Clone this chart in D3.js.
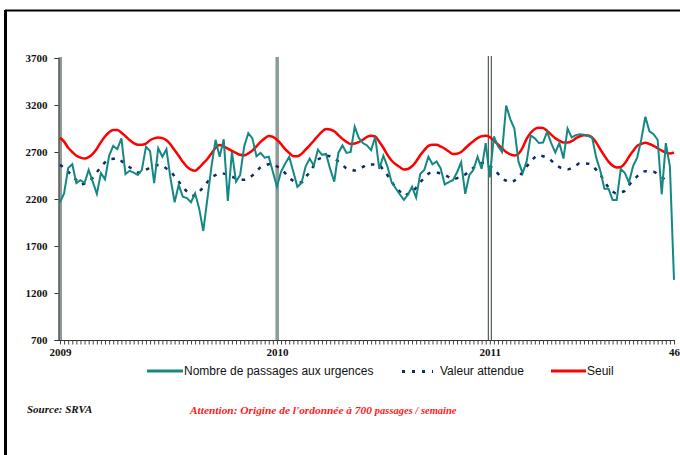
<!DOCTYPE html>
<html>
<head>
<meta charset="utf-8">
<script src="https://cdn.jsdelivr.net/npm/d3@7"></script>
<style>
  html, body { margin: 0; padding: 0; background: #fff; }
  svg { display: block; }
</style>
</head>
<body>
<svg id="chart" width="680" height="455"></svg>
<script>
// Weekly emergency-room visits, 2009 week 1 to 2011 week 46 (151 weeks)
const passages = [
  2165,2260,2530,2570,2370,2400,2370,2510,2385,2255,2475,2410,2660,2765,2730,2845,2465,2500,2480,2455,
  2510,2755,2710,2370,2740,2650,2730,2420,2165,2350,2225,2210,2165,2260,2100,1860,2200,2545,2830,2650,
  2835,2180,2700,2385,2455,2760,2900,2845,2655,2690,2640,2650,2490,2330,2490,2575,2650,2490,2330,2370,
  2545,2630,2555,2725,2670,2680,2520,2385,2690,2770,2690,2700,2970,2850,2795,2770,2720,2860,2520,2660,
  2545,2380,2315,2250,2190,2245,2330,2215,2465,2510,2650,2570,2600,2525,2355,2380,2400,2485,2590,2255,
  2455,2510,2650,2520,2795,2430,2865,2760,2700,3195,3050,2950,2600,2475,2600,2875,2845,2795,2800,2915,
  2795,2695,2795,2630,2950,2855,2880,2890,2885,2870,2855,2640,2500,2310,2310,2190,2190,2520,2475,2375,
  2550,2640,2830,3075,2920,2890,2830,2250,2795,2545,1340
];

// Expected value (seasonal baseline)
const attendue = [
  2565,2530,2490,2447,2400,2355,2365,2390,2425,2485,2540,2590,2622,2628,2635,2605,2570,2538,2510,2482,
  2485,2512,2530,2547,2563,2555,2525,2497,2440,2385,2325,2280,2248,2232,2278,2323,2380,2430,2453,2472,
  2470,2455,2438,2420,2404,2405,2425,2450,2494,2537,2555,2570,2578,2548,2519,2475,2424,2393,2377,2377,
  2432,2488,2555,2618,2640,2661,2655,2630,2600,2562,2525,2515,2503,2515,2540,2568,2568,2565,2560,2508,
  2452,2385,2325,2280,2235,2255,2278,2320,2378,2425,2468,2485,2480,2473,2458,2432,2408,2422,2435,2460,
  2497,2532,2555,2583,2585,2550,2518,2470,2418,2395,2378,2395,2435,2485,2545,2598,2645,2667,2655,2640,
  2610,2572,2540,2527,2515,2530,2555,2580,2578,2576,2558,2510,2460,2385,2325,2280,2257,2270,2288,2345,
  2400,2440,2480,2495,2492,2490,2465,2433,2400
];

// Alert threshold
const seuil = [
  2852,2810,2745,2700,2660,2640,2630,2645,2680,2735,2805,2865,2910,2935,2935,2905,2868,2828,2795,2778,
  2776,2790,2825,2845,2855,2848,2825,2780,2720,2660,2595,2545,2512,2500,2535,2580,2625,2685,2745,2775,
  2758,2735,2712,2690,2670,2665,2685,2715,2760,2808,2845,2870,2860,2830,2785,2730,2690,2655,2655,2680,
  2725,2770,2820,2870,2915,2945,2940,2920,2880,2840,2808,2785,2790,2805,2830,2860,2872,2865,2810,2745,
  2670,2610,2570,2540,2515,2520,2548,2600,2665,2720,2765,2778,2778,2758,2735,2705,2680,2682,2700,2740,
  2780,2815,2848,2868,2872,2858,2820,2780,2740,2700,2675,2662,2680,2745,2840,2905,2945,2958,2955,2925,
  2885,2845,2820,2800,2800,2815,2845,2868,2878,2875,2855,2800,2728,2660,2598,2555,2535,2540,2580,2650,
  2710,2765,2785,2798,2785,2765,2740,2715,2695,2685,2695
];

const yTicks = [700, 1200, 1700, 2200, 2700, 3200, 3700];
const xTickWeeks = [0, 53, 105, 150];
const xTickLabels = ["2009", "2010", "2011", "46"];
const yearStartWeeks = [0, 53, 105];
const legendLabels = ["Nombre de passages aux urgences", "Valeur attendue", "Seuil"];

const colTeal = "#158883";
const colNavy = "#0e2c5c";
const colRed = "#ff0000";

const svg = d3.select("#chart");

// outer frame
svg.append("line").attr("x1", 5).attr("x2", 680).attr("y1", 10.5).attr("y2", 10.5)
  .attr("stroke", "#000").attr("stroke-width", 2);
svg.append("line").attr("x1", 5.5).attr("x2", 5.5).attr("y1", 10).attr("y2", 455)
  .attr("stroke", "#000").attr("stroke-width", 3);

const x = d3.scaleLinear().domain([0, 150]).range([60, 674]);
const y = d3.scaleLinear().domain([700, 3700]).range([340, 58]);

// year-start markers
const markers = svg.append("g");
yearStartWeeks.forEach((w, k) => {
  if (k < 2) {
    markers.append("rect")
      .attr("x", x(w) - 1.5).attr("width", 3.5)
      .attr("y", y(3700) - 1).attr("height", y(700) - y(3700) + 1)
      .attr("fill", "#8e9c99");
  } else {
    [-1.5, 1.5].forEach(off => {
      markers.append("line")
        .attr("x1", x(w) + off).attr("x2", x(w) + off)
        .attr("y1", y(3700) - 2).attr("y2", y(700))
        .attr("stroke", "#2f3b3a").attr("stroke-width", 1);
    });
  }
});

// y axis
const yAxis = svg.append("g").attr("transform", "translate(58.5,0)")
  .call(d3.axisLeft(y).tickValues(yTicks).tickSize(4).tickFormat(d3.format("d")));
yAxis.select(".domain").attr("stroke", "#333");
yAxis.selectAll(".tick line").attr("stroke", "#333");
yAxis.selectAll("text")
  .attr("font-family", "'Liberation Serif', 'Times New Roman', serif")
  .attr("font-weight", "bold").attr("font-size", 11).attr("fill", "#111").attr("dx", -4);

// x axis: a minor tick for every week
const xAxis = svg.append("g").attr("transform", "translate(0,340.5)")
  .call(d3.axisBottom(x).tickValues(d3.range(0, 151)).tickSize(4).tickFormat(""));
xAxis.select(".domain").attr("stroke", "#333").attr("d", `M58,0H${x(150) + 1}`);
xAxis.selectAll(".tick line").attr("stroke", "#444");

const xLabels = svg.append("g").attr("transform", "translate(0,340.5)")
  .call(d3.axisBottom(x).tickValues(xTickWeeks).tickSize(0)
    .tickFormat((d, i) => xTickLabels[i]));
xLabels.select(".domain").remove();
xLabels.selectAll("text")
  .attr("font-family", "'Liberation Serif', 'Times New Roman', serif")
  .attr("font-weight", "bold").attr("font-size", 11).attr("fill", "#111").attr("dy", "1.1em");

// series
const line = d3.line().x((d, i) => x(i)).y(d => y(d));
const smooth = d3.line().x((d, i) => x(i)).y(d => y(d)).curve(d3.curveMonotoneX);

svg.append("path").datum(attendue).attr("d", smooth)
  .attr("fill", "none").attr("stroke", colNavy).attr("stroke-width", 2.5)
  .attr("stroke-dasharray", "3.5,6.5");
svg.append("path").datum(seuil).attr("d", smooth)
  .attr("fill", "none").attr("stroke", colRed).attr("stroke-width", 2.5);
svg.append("path").datum(passages).attr("d", line)
  .attr("fill", "none").attr("stroke", colTeal).attr("stroke-width", 2)
  .attr("stroke-linejoin", "miter");

// legend
const leg = svg.append("g")
  .attr("font-family", "'Liberation Sans', Arial, sans-serif").attr("font-size", 12).attr("fill", "#111");
const legY = 371;
leg.append("line").attr("x1", 147).attr("x2", 183).attr("y1", legY).attr("y2", legY)
  .attr("stroke", colTeal).attr("stroke-width", 3);
leg.append("text").attr("x", 184).attr("y", legY + 4).text(legendLabels[0]);
leg.append("line").attr("x1", 402).attr("x2", 433).attr("y1", legY + 0.5).attr("y2", legY + 0.5)
  .attr("stroke", colNavy).attr("stroke-width", 3).attr("stroke-dasharray", "3,7");
leg.append("text").attr("x", 440).attr("y", legY + 4).text(legendLabels[1]);
leg.append("line").attr("x1", 551).attr("x2", 586).attr("y1", legY).attr("y2", legY)
  .attr("stroke", colRed).attr("stroke-width", 3);
leg.append("text").attr("x", 587).attr("y", legY + 4).text(legendLabels[2]);

// notes
const serif = "'Liberation Serif', 'Times New Roman', serif";
svg.append("text").attr("x", 27).attr("y", 413)
  .attr("font-family", serif).attr("font-style", "italic").attr("font-weight", "bold")
  .attr("font-size", 11).attr("fill", "#111").text("Source: SRVA");
const att = svg.append("text").attr("x", 190).attr("y", 414)
  .attr("font-family", serif).attr("font-style", "italic").attr("font-weight", "bold")
  .attr("fill", "#ff1a1a");
att.append("tspan").attr("font-size", 11.4).text("Attention: Origine de l'ordonnée à 700 ");
att.append("tspan").attr("font-size", 10.5).text(" passages / semaine");
</script>
</body>
</html>
